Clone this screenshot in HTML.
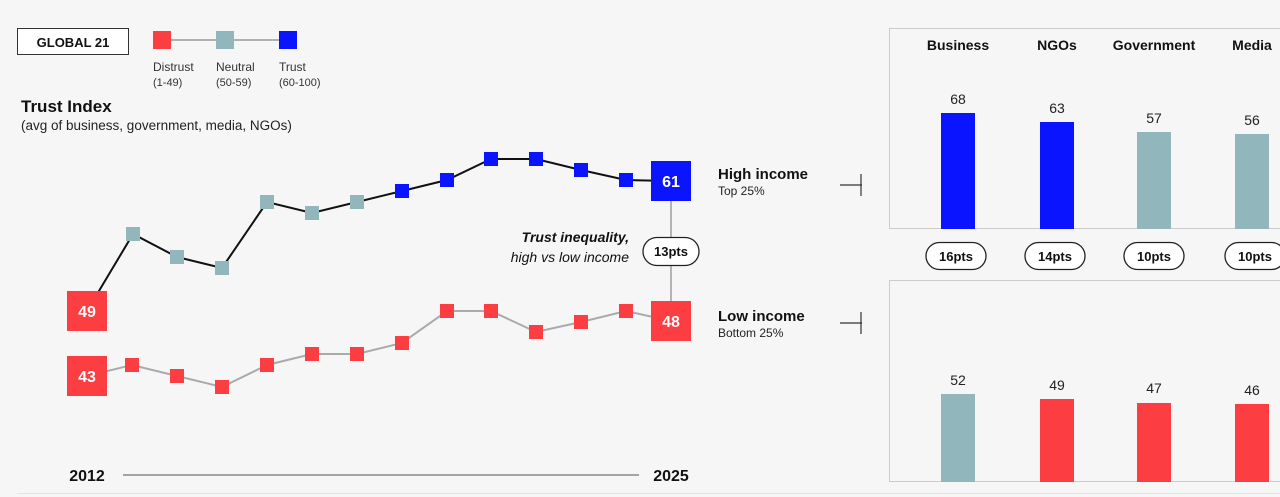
<!DOCTYPE html>
<html><head><meta charset="utf-8"><style>
body{margin:0;background:#f6f6f6;}
svg{display:block;font-family:"Liberation Sans",Arial,sans-serif;}
</style></head><body>
<svg width="1280" height="497" viewBox="0 0 1280 497">
<rect width="1280" height="497" fill="#f6f6f6"/>
<!-- legend -->
<rect x="17.5" y="28.5" width="111" height="26" fill="#fff" stroke="#333"/>
<text x="73" y="47" font-size="13" font-weight="bold" text-anchor="middle" fill="#111">GLOBAL 21</text>
<line x1="162" y1="40" x2="288" y2="40" stroke="#999" stroke-width="1.5"/>
<rect x="153" y="31" width="18" height="18" fill="#fc3d42"/>
<rect x="216" y="31" width="18" height="18" fill="#91b7bd"/>
<rect x="279" y="31" width="18" height="18" fill="#0a14ff"/>
<g font-size="12" fill="#333"><text x="153" y="71">Distrust</text><text x="216" y="71">Neutral</text><text x="279" y="71">Trust</text></g>
<g font-size="11" fill="#333"><text x="153" y="86">(1-49)</text><text x="216" y="86">(50-59)</text><text x="279" y="86">(60-100)</text></g>
<text x="21" y="112" font-size="17" font-weight="bold" fill="#111">Trust Index</text>
<text x="21" y="130" font-size="13.5" fill="#222">(avg of business, government, media, NGOs)</text>
<!-- lines -->
<polyline points="87,311 133,234 177,257 222,268 267,202 312,213 357,202 402,191 447,180 491,159 536,159 581,170 626,180 671,181" fill="none" stroke="#111" stroke-width="2"/>
<polyline points="87,376 132,365 177,376 222,387 267,365 312,354 357,354 402,343 447,311 491,311 536,332 581,322 626,311 671,321" fill="none" stroke="#aaa" stroke-width="2"/>
<line x1="671" y1="201" x2="671" y2="301" stroke="#888" stroke-width="1.2"/>
<g fill="#91b7bd"><rect x="126" y="227" width="14" height="14"/><rect x="170" y="250" width="14" height="14"/><rect x="215" y="261" width="14" height="14"/><rect x="260" y="195" width="14" height="14"/><rect x="305" y="206" width="14" height="14"/><rect x="350" y="195" width="14" height="14"/></g>
<g fill="#0a14ff"><rect x="395" y="184" width="14" height="14"/><rect x="440" y="173" width="14" height="14"/><rect x="484" y="152" width="14" height="14"/><rect x="529" y="152" width="14" height="14"/><rect x="574" y="163" width="14" height="14"/><rect x="619" y="173" width="14" height="14"/><rect x="651" y="161" width="40" height="40"/></g>
<g fill="#fc3d42"><rect x="67" y="291" width="40" height="40"/><rect x="67" y="356" width="40" height="40"/><rect x="125" y="358" width="14" height="14"/><rect x="170" y="369" width="14" height="14"/><rect x="215" y="380" width="14" height="14"/><rect x="260" y="358" width="14" height="14"/><rect x="305" y="347" width="14" height="14"/><rect x="350" y="347" width="14" height="14"/><rect x="395" y="336" width="14" height="14"/><rect x="440" y="304" width="14" height="14"/><rect x="484" y="304" width="14" height="14"/><rect x="529" y="325" width="14" height="14"/><rect x="574" y="315" width="14" height="14"/><rect x="619" y="304" width="14" height="14"/><rect x="651" y="301" width="40" height="40"/></g>
<g font-size="16" font-weight="bold" fill="#fff" text-anchor="middle"><text x="87" y="317">49</text><text x="87" y="382">43</text><text x="671" y="187">61</text><text x="671" y="327">48</text></g>
<text x="629" y="242" font-size="14" font-weight="bold" font-style="italic" text-anchor="end" fill="#111">Trust inequality,</text>
<text x="629" y="262" font-size="14" font-style="italic" text-anchor="end" fill="#111">high vs low income</text>
<rect x="643" y="237.5" width="56" height="28" rx="14" fill="#fff" stroke="#222" stroke-width="1.3"/>
<text x="671" y="256" font-size="13" font-weight="bold" text-anchor="middle" fill="#111">13pts</text>
<text x="87" y="481" font-size="16" font-weight="bold" text-anchor="middle" fill="#111">2012</text>
<text x="671" y="481" font-size="16" font-weight="bold" text-anchor="middle" fill="#111">2025</text>
<line x1="123" y1="475" x2="639" y2="475" stroke="#888" stroke-width="1.5"/>
<!-- labels -->
<text x="718" y="179" font-size="15" font-weight="bold" fill="#111">High income</text>
<text x="718" y="195" font-size="12" fill="#222">Top 25%</text>
<text x="718" y="321" font-size="15" font-weight="bold" fill="#111">Low income</text>
<text x="718" y="337" font-size="12" fill="#222">Bottom 25%</text>
<g stroke="#333" stroke-width="1.2"><line x1="840" y1="185" x2="862" y2="185"/><line x1="861" y1="174" x2="861" y2="196"/><line x1="840" y1="323" x2="862" y2="323"/><line x1="861" y1="312" x2="861" y2="334"/></g>
<!-- panels -->
<rect x="889.5" y="28.5" width="400" height="200" fill="#f6f6f6" stroke="#ccc"/>
<rect x="889.5" y="280.5" width="400" height="201" fill="#f6f6f6" stroke="#ccc"/>
<g font-size="14" font-weight="bold" fill="#111" text-anchor="middle"><text x="958" y="50">Business</text><text x="1057" y="50">NGOs</text><text x="1154" y="50">Government</text><text x="1252" y="50">Media</text></g>
<rect x="941" y="113" width="34" height="116" fill="#0a14ff"/>
<rect x="1040" y="122" width="34" height="107" fill="#0a14ff"/>
<rect x="1137" y="132" width="34" height="97" fill="#91b7bd"/>
<rect x="1235" y="134" width="34" height="95" fill="#91b7bd"/>
<rect x="941" y="394" width="34" height="88" fill="#91b7bd"/>
<rect x="1040" y="399" width="34" height="83" fill="#fc3d42"/>
<rect x="1137" y="403" width="34" height="79" fill="#fc3d42"/>
<rect x="1235" y="404" width="34" height="78" fill="#fc3d42"/>
<g font-size="14" fill="#222" text-anchor="middle"><text x="958" y="104">68</text><text x="1057" y="113">63</text><text x="1154" y="123">57</text><text x="1252" y="125">56</text><text x="958" y="385">52</text><text x="1057" y="390">49</text><text x="1154" y="393">47</text><text x="1252" y="395">46</text></g>
<g fill="#fff" stroke="#222" stroke-width="1.3"><rect x="926" y="242.5" width="60" height="27" rx="13.5"/><rect x="1025" y="242.5" width="60" height="27" rx="13.5"/><rect x="1124" y="242.5" width="60" height="27" rx="13.5"/><rect x="1225" y="242.5" width="60" height="27" rx="13.5"/></g>
<g font-size="13" font-weight="bold" fill="#111" text-anchor="middle"><text x="956" y="261">16pts</text><text x="1055" y="261">14pts</text><text x="1154" y="261">10pts</text><text x="1255" y="261">10pts</text></g>
<line x1="17" y1="493.5" x2="1280" y2="493.5" stroke="#e4e4e4"/>
</svg>
</body></html>
